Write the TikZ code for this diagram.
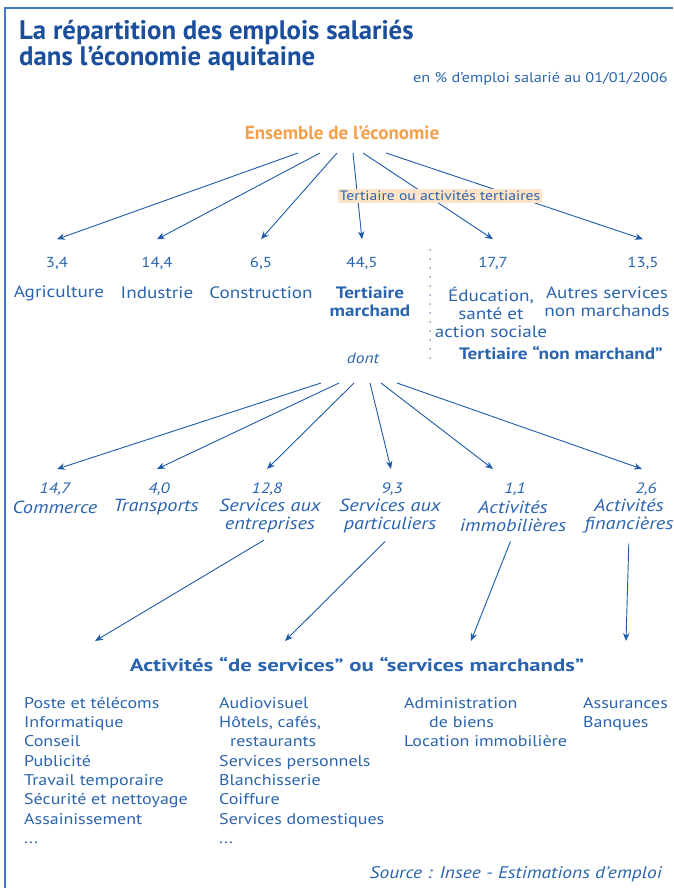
\documentclass[tikz,border=0pt]{standalone}
\usepackage{fontspec}
\setmainfont{PT Sans}[FakeStretch=1.16]
\newfontfamily\titrefont{PT Sans}
\newfontfamily\largefont[FakeStretch=1.28]{PT Sans}
\usetikzlibrary{arrows.meta,positioning}
\definecolor{titre}{HTML}{1B4F9C}
\definecolor{texte}{HTML}{2A64AE}
\definecolor{trait}{HTML}{1E5AA8}
\definecolor{cadre}{HTML}{3E7BBA}
\definecolor{orange}{HTML}{F4A04A}
\definecolor{peche}{HTML}{FDE3C7}

\begin{document}
\begin{tikzpicture}[x=1pt,y=-1pt,
  fleche/.style={draw=trait,line width=0.9pt,-{Stealth[length=8pt,width=6.5pt]}},
  chiffre/.style={text=texte,font=\fontsize{14.5}{18}\selectfont},
  libelle/.style={text=texte,align=center,font=\fontsize{16.5}{18}\selectfont},
  chiffreit/.style={text=texte,font=\fontsize{15}{18}\selectfont\itshape},
  libelleit/.style={text=texte,align=center,font=\fontsize{17.5}{18}\selectfont\itshape},
  liste/.style={text=texte,align=left,anchor=north west,inner sep=0pt,font=\fontsize{15.5}{19.3}\selectfont}]
  \useasboundingbox (0,0) rectangle (673,888);
  \draw[cadre,line width=2.5pt] (673,8) -- (5,8) -- (5,888);

  % titre
  \node[anchor=base west,inner sep=0pt,text=titre,font=\titrefont\fontsize{26.8}{28}\selectfont\bfseries] (titre1) at (19,40) {La répartition des emplois salariés};
  \node[anchor=base west,inner sep=0pt,text=titre,font=\titrefont\fontsize{26.8}{28}\selectfont\bfseries] (titre2) at (19,66) {dans l’économie aquitaine};
  \node[anchor=base east,inner sep=0pt,text=texte,font=\fontsize{14}{16}\selectfont] (unite) at (668,83) {en \% d’emploi salarié au 01/01/2006};

  % premier niveau
  \node[text=orange,font=\titrefont\fontsize{19}{20}\selectfont\bfseries] (eco) at (342,133) {Ensemble de l’économie};
  \node[chiffre] (n1) at (57,263) {3,4};
  \node[chiffre] (n2) at (157,263) {14,4};
  \node[chiffre] (n3) at (261,263) {6,5};
  \node[chiffre] (n4) at (362,263) {44,5};
  \node[chiffre] (n5) at (493,263) {17,7};
  \node[chiffre] (n6) at (643,263) {13,5};
  \node[libelle] (l1) at (59,293) {Agriculture};
  \node[libelle] (l2) at (157,293) {Industrie};
  \node[libelle] (l3) at (261,293) {Construction};
  \node[libelle,font=\fontsize{16.5}{18}\selectfont\bfseries] (l4) at (370,302) {Tertiaire\\marchand};
  \node[libelle] (l5) at (491,312) {Éducation,\\santé et\\action sociale};
  \node[libelle] (l6) at (607,302) {Autres services\\non marchands};
  \node[libelle,font=\fontsize{16.5}{18}\selectfont\bfseries] (nm) at (561,353) {Tertiaire “non marchand”};
  \draw[trait,line width=1.5pt,line cap=round,dash pattern=on 0pt off 9pt] (430,250) -- (430,362);

  \foreach \x [count=\i] in {298,320,337,353,363,386}
    \coordinate (d\i) at (\x,153);
  \foreach \i in {1,...,6}
    \draw[fleche] (d\i) -- ([yshift=14pt]n\i.north);
  \node[fill=peche,text=texte,inner sep=2pt,font=\fontsize{13.5}{16}\selectfont] (tert) at (440,196) {Tertiaire ou activités tertiaires};

  % tertiaire marchand
  \node[libelleit,font=\fontsize{15}{16}\selectfont\itshape] (dont) at (363,358) {dont};
  \node[chiffreit] (m1) at (55,489) {14,7};
  \node[chiffreit] (m2) at (159,489) {4,0};
  \node[chiffreit] (m3) at (267,489) {12,8};
  \node[chiffreit] (m4) at (392,489) {9,3};
  \node[chiffreit] (m5) at (515,489) {1,1};
  \node[chiffreit] (m6) at (646,489) {2,6};
  \node[libelleit] (k1) at (55,507) {Commerce};
  \node[libelleit] (k2) at (156,507) {Transports};
  \node[libelleit] (k3) at (270,516) {Services aux\\entreprises};
  \node[libelleit] (k4) at (390,516) {Services aux\\particuliers};
  \node[libelleit] (k5) at (513,516) {Activités\\immobilières};
  \node[libelleit] (k6) at (629,516) {Activités\\financières};

  \foreach \x [count=\i] in {321,339,354,370,381,397}
    \coordinate (e\i) at (\x,383);
  \foreach \dx [count=\i] in {2,-2,0,-1,-22,-4}
    \draw[fleche] (e\i) -- ([xshift=\dx pt,yshift=10pt]m\i.north);

  % services marchands
  \node[libelle,font=\largefont\fontsize{17.8}{20}\selectfont\bfseries] (sm) at (357,665) {Activités “de services” ou “services marchands”};
  \coordinate (c3) at (95,641);
  \coordinate (c4) at (285,641);
  \coordinate (c5) at (471,641);
  \coordinate (c6) at (626,641);
  \foreach \i in {3,...,6}
    \draw[fleche,shorten <=7pt] (k\i.south) -- (c\i);

  \node[liste] (col1) at (24,697) {Poste et télécoms\\Informatique\\Conseil\\Publicité\\Travail temporaire\\Sécurité et nettoyage\\Assainissement\\...};
  \node[liste] (col2) at (219,697) {Audiovisuel\\Hôtels, cafés,\\\hspace*{11pt}restaurants\\Services personnels\\Blanchisserie\\Coiffure\\Services domestiques\\...};
  \node[liste] (col3) at (404,697) {Administration\\\hspace*{25pt}de biens\\Location immobilière};
  \node[liste] (col4) at (583,697) {Assurances\\Banques};

  \node[anchor=base east,inner sep=0pt,text=texte,font=\fontsize{16.8}{18}\selectfont\itshape] (source) at (662,878) {Source : Insee - Estimations d’emploi};
\end{tikzpicture}
\end{document}
